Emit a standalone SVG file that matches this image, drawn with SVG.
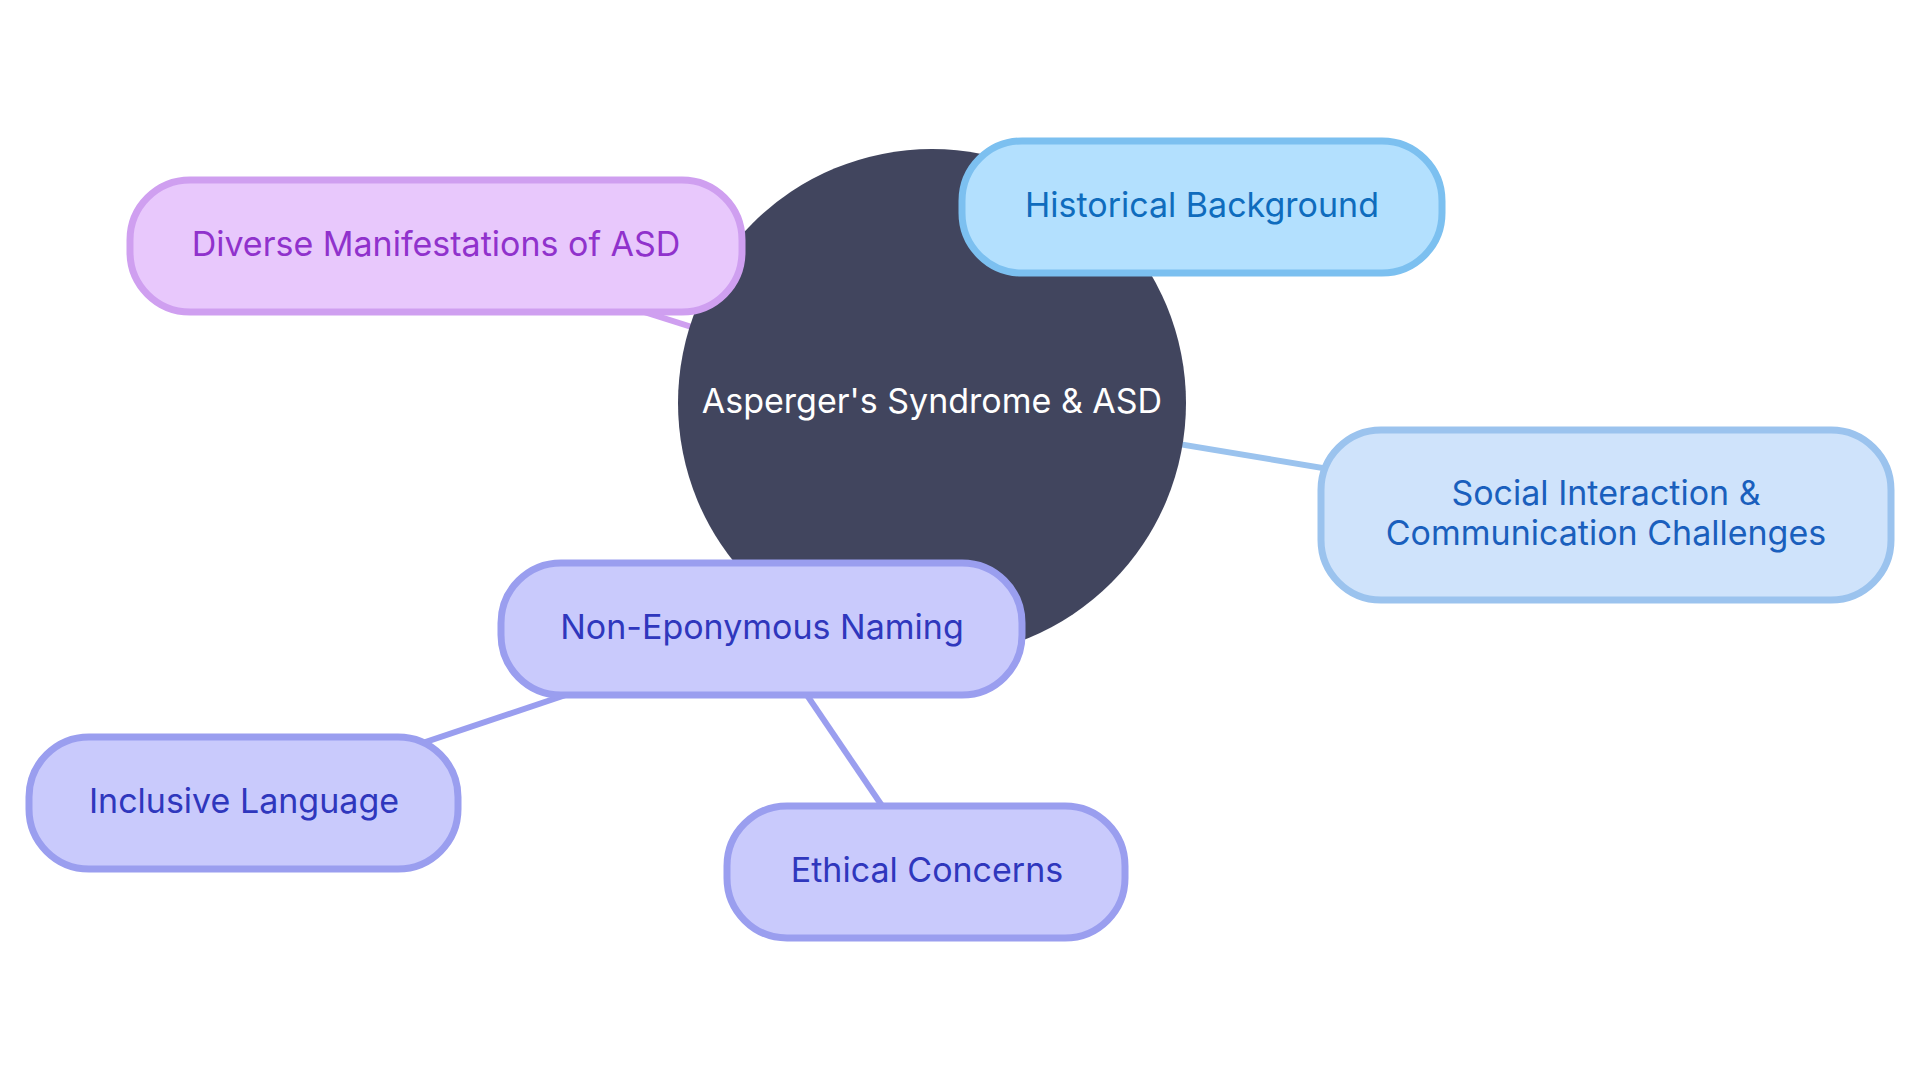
<svg xmlns="http://www.w3.org/2000/svg" width="1920" height="1080" viewBox="0 0 1920 1080">
<style>
text{font-family:Inter,"Noto Sans","Liberation Sans",sans-serif;font-size:34px;text-anchor:middle;dominant-baseline:central}
.edge{stroke-width:6;fill:none}
.node rect{stroke-width:7}
.blue rect{fill:#b3e0fe;stroke:#7cc0f0}
.blue text{fill:#0f6cbd}
.purple rect{fill:#e8c8fc;stroke:#cf9ff0}
.purple text{fill:#9032cc}
.lblue rect{fill:#cfe3fb;stroke:#9bc3ee}
.lblue text{fill:#1a5fbd}
.indigo rect{fill:#c9cafc;stroke:#9a9eef}
.indigo text{fill:#2f37bd}
</style>
<rect width="1920" height="1080" fill="#ffffff"/>
<g id="connectors">
<line class="edge" x1="436" y1="246" x2="932" y2="403" stroke="#cf9ff0"/>
<line class="edge" x1="1605" y1="515" x2="932" y2="403" stroke="#9bc3ee"/>
<line class="edge" x1="1201" y1="206" x2="932" y2="403" stroke="#7cc0f0"/>
<line class="edge" x1="762" y1="629" x2="932" y2="403" stroke="#9a9eef"/>
<line class="edge" x1="762" y1="629" x2="244" y2="803" stroke="#9a9eef"/>
<line class="edge" x1="762" y1="629" x2="927" y2="872" stroke="#9a9eef"/>
</g>
<g id="root">
<circle cx="932" cy="403" r="254" fill="#41455e"/>
<text x="932" y="400" fill="#ffffff">Asperger's Syndrome &amp; ASD</text>
</g>
<g id="historical" class="node blue">
<rect x="962" y="141" width="480" height="132" rx="60"/>
<text x="1202" y="204">Historical Background</text>
</g>
<g id="diverse" class="node purple">
<rect x="130" y="180" width="612" height="132" rx="60"/>
<text x="436" y="243">Diverse Manifestations of ASD</text>
</g>
<g id="social" class="node lblue">
<rect x="1321" y="430" width="570" height="170" rx="60"/>
<text x="1606" y="492">Social Interaction &amp;</text>
<text x="1606" y="532">Communication Challenges</text>
</g>
<g id="noneponymous" class="node indigo">
<rect x="501" y="563" width="521" height="132" rx="60"/>
<text x="762" y="626">Non-Eponymous Naming</text>
</g>
<g id="inclusive" class="node indigo">
<rect x="29" y="737" width="429" height="132" rx="60"/>
<text x="244" y="800">Inclusive Language</text>
</g>
<g id="ethical" class="node indigo">
<rect x="727" y="806" width="398" height="132" rx="60"/>
<text x="927" y="869">Ethical Concerns</text>
</g>
</svg>
